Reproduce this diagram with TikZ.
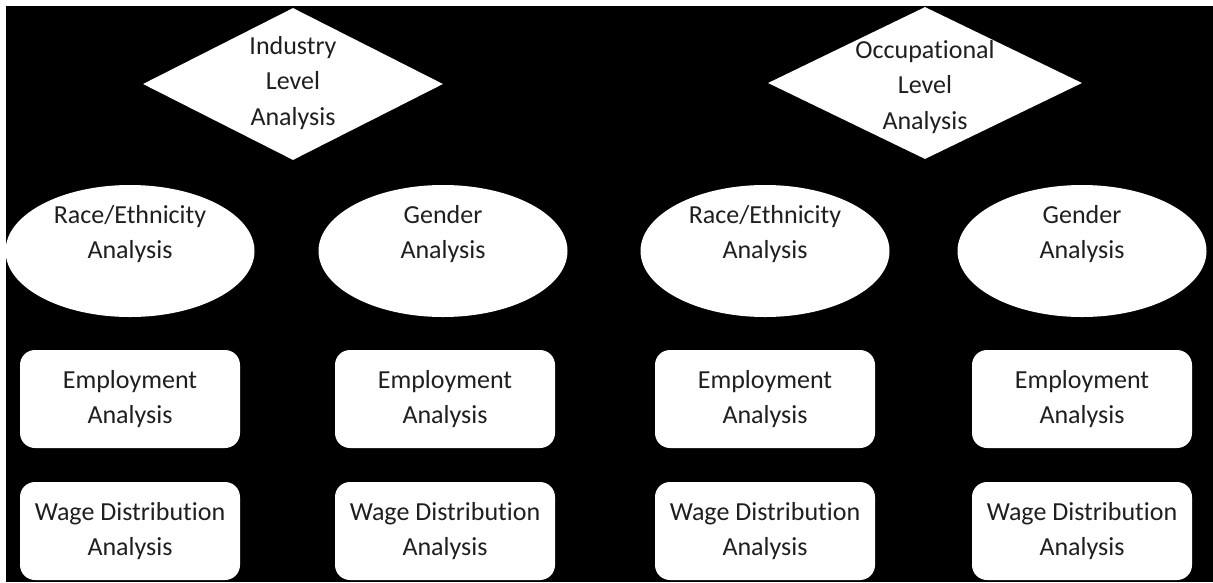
\documentclass[tikz,border=0pt]{standalone}
\usepackage{fontspec}
\setmainfont{Carlito}[Ligatures=CommonOff]
\usetikzlibrary{shapes.geometric}
\tikzset{
  lbl/.style={font=\fontsize{26}{35.5}\selectfont, align=center, text=black!88, inner sep=0pt},
  levelbox/.style={diamond, fill=white, inner sep=0pt, minimum width=#1, minimum height=152pt},
  oval/.style={ellipse, fill=white, inner sep=0pt, minimum width=249pt, minimum height=132pt},
  taskbox/.style={rounded corners=15pt, fill=white, draw=none, inner sep=0pt,
    minimum width=220pt, minimum height=98pt, font=\fontsize{26}{35}\selectfont,
    align=center, text=black!88}
}
\begin{document}
\begin{tikzpicture}[x=1pt,y=-1pt]
  % canvas
  \useasboundingbox (0,0) rectangle (1213,582);
  \fill[white] (0,0) rectangle (1213,582);
  \fill[black] (6,6) rectangle (1213,582);

  % top level
  \node[levelbox=300pt] (ind) at (293,84) {};
  \node[lbl] (indt) at ([yshift=1pt]ind.center) {Industry\\Level\\Analysis};
  \node[levelbox=314pt] (occ) at (925,83) {};
  \node[lbl] (occt) at ([yshift=-4pt]occ.center) {Occupational\\Level\\Analysis};

  % analysis dimensions
  \foreach \n/\x/\t in {r1/130/Race\slash Ethnicity, g1/443/Gender,
                        r2/765/Race\slash Ethnicity, g2/1082/Gender} {
    \node[oval] (\n) at (\x,251) {};
    \node[lbl] (\n t) at ([yshift=17pt]\n.center) {\t\\Analysis};
  }

  % outcome analyses
  \foreach \n/\x in {a/130, b/445, c/765, d/1082} {
    \node[taskbox] (emp\n) at (\x,399) {Employment\\Analysis};
    \node[taskbox] (wage\n) at (\x,531) {Wage Distribution\\Analysis};
  }
\end{tikzpicture}
\end{document}
